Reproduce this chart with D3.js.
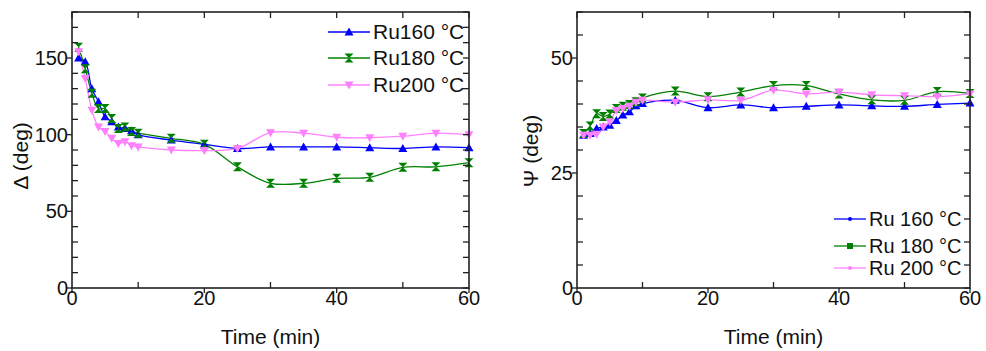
<!DOCTYPE html>
<html>
<head>
<meta charset="utf-8">
<script src="https://cdn.jsdelivr.net/npm/d3@7"></script>
<style>
  body { margin: 0; background: #fff; }
  text { font-family: "Liberation Sans", Arial, Helvetica, sans-serif; fill: #111; }
</style>
</head>
<body>
<svg id="chart" width="986" height="351"></svg>
<script>
// sampling times (min)
var times = [1, 2, 3, 4, 5, 6, 7, 8, 9, 10, 15, 20, 25, 30, 35, 40, 45, 50, 55, 60];

// Delta (deg)
var delta160 = [150, 147.6, 130, 121.5, 111.7, 108.5, 105, 104, 102.6, 100, 96.5, 93.7, 91, 92, 92, 92, 91.5, 91, 92, 91.5];
var delta180 = [157, 143, 127, 117, 117, 110.6, 104, 105, 102, 101, 97.6, 93.7, 79, 68.3, 68.3, 71.5, 72.2, 78.7, 79, 81.7];
var delta200 = [154, 136.7, 116, 105, 102, 97.6, 94.3, 95.4, 92.8, 92, 90, 89.6, 91, 101.3, 101, 98.3, 98, 99, 101, 100];

// Psi (deg)
var psi160 = [33.2, 33.6, 34.7, 35, 35.4, 36.4, 37.6, 38.3, 39.6, 40.1, 40.8, 39.2, 39.8, 39.2, 39.5, 39.8, 39.6, 39.5, 39.9, 40.2];
var psi180 = [33.6, 35.2, 37.9, 37.3, 37.8, 39, 39.5, 39.9, 40.5, 41.3, 42.8, 41.6, 42.6, 44, 44, 42.2, 40.9, 40.8, 42.7, 42.3];
var psi200 = [33.2, 33.2, 33.4, 35, 36.1, 38.6, 39, 39.5, 40.4, 40.8, 40.4, 40.9, 40.8, 43, 42.2, 42.6, 42, 41.8, 41.6, 42.2];

var leftLegend = ["Ru160 \u00b0C", "Ru180 \u00b0C", "Ru200 \u00b0C"];
var rightLegend = ["Ru 160 \u00b0C", "Ru 180 \u00b0C", "Ru 200 \u00b0C"];
var colors = ["#0000ff", "#008000", "#ff80ff"];

var xTicksMajor = [0, 20, 40, 60];
var xTicksMinor = [10, 30, 50];

var svg = d3.select("#chart");

var markerPaths = {
  up: "M0,-4.5L4.5,3.5L-4.5,3.5Z",
  down: "M0,4.5L4.5,-3.5L-4.5,-3.5Z",
  hour: "M-4.5,-4.5H4.5L-4.5,4.5H4.5Z"
};
var shapes = ["up", "hour", "down"];

function drawPanel(opt) {
  var x = d3.scaleLinear().domain([0, 60]).range([opt.x0, opt.x1]);
  var y = d3.scaleLinear().domain([0, opt.ymax]).range([288, 12]);
  var g = svg.append("g");

  var series = opt.series;
  var line = d3.line()
    .x(function(d, i) { return x(times[i]); })
    .y(function(d) { return y(d); })
    .curve(d3.curveCatmullRom.alpha(0.5));

  series.forEach(function(s, k) {
    g.append("path")
      .attr("d", line(s))
      .attr("fill", "none")
      .attr("stroke", colors[k])
      .attr("stroke-width", 1.3);
  });
  series.forEach(function(s, k) {
    g.selectAll(".m" + k).data(s).enter().append("path")
      .attr("class", "m" + k)
      .attr("d", markerPaths[shapes[k]])
      .attr("transform", function(d, i) { return "translate(" + x(times[i]) + "," + y(d) + ")"; })
      .attr("fill", colors[k]);
  });

  // frame
  var axisColor = "#222";
  g.append("rect")
    .attr("x", opt.x0).attr("y", 12)
    .attr("width", opt.x1 - opt.x0).attr("height", 276)
    .attr("fill", "none").attr("stroke", axisColor).attr("stroke-width", 1.6);

  // x ticks
  var xAll = d3.range(0, 61, 10);
  xTicksMajor.forEach(function(t) {
    g.append("line").attr("x1", x(t)).attr("x2", x(t)).attr("y1", 288).attr("y2", 293)
      .attr("stroke", axisColor).attr("stroke-width", 1.3);
    g.append("text").attr("x", x(t)).attr("y", 305).attr("text-anchor", "middle")
      .style("font-size", "20px").text(t);
  });
  xTicksMinor.forEach(function(t) {
    g.append("line").attr("x1", x(t)).attr("x2", x(t)).attr("y1", 288).attr("y2", 282)
      .attr("stroke", axisColor).attr("stroke-width", 1.3);
  });
  xAll.forEach(function(t) {
    g.append("line").attr("x1", x(t)).attr("x2", x(t)).attr("y1", 12).attr("y2", 18)
      .attr("stroke", axisColor).attr("stroke-width", 1.3);
  });

  // y ticks
  d3.range(0, opt.ymax + 0.1, opt.minor).forEach(function(v) {
    var major = opt.major.indexOf(v) >= 0;
    g.append("line").attr("x1", opt.x1).attr("x2", opt.x1 - 6).attr("y1", y(v)).attr("y2", y(v))
      .attr("stroke", axisColor).attr("stroke-width", 1.3);
    if (major) {
      g.append("line").attr("x1", opt.x0).attr("x2", opt.x0 - 5).attr("y1", y(v)).attr("y2", y(v))
        .attr("stroke", axisColor).attr("stroke-width", 1.3);
      g.append("text").attr("x", opt.x0 - 4).attr("y", y(v) + 7).attr("text-anchor", "end")
        .style("font-size", "20px").text(v);
    } else {
      g.append("line").attr("x1", opt.x0).attr("x2", opt.x0 + 6).attr("y1", y(v)).attr("y2", y(v))
        .attr("stroke", axisColor).attr("stroke-width", 1.3);
    }
  });

  // titles
  g.append("text").attr("x", (opt.x0 + opt.x1) / 2).attr("y", 344).attr("text-anchor", "middle")
    .style("font-size", "21px").text("Time (min)");
  g.append("text").attr("transform", "translate(" + opt.ylabX + "," + opt.ylabY + ") rotate(-90)")
    .attr("text-anchor", "middle").style("font-size", "21px").text(opt.ylabel);

  // legend
  opt.legend.forEach(function(name, k) {
    var ly = opt.legY[k];
    g.append("line").attr("x1", opt.legX0).attr("x2", opt.legX1).attr("y1", ly).attr("y2", ly)
      .attr("stroke", colors[k]).attr("stroke-width", 1.3);
    var mx = (opt.legX0 + opt.legX1) / 2;
    if (opt.legMarks) {
      g.append("path").attr("d", markerPaths[shapes[k]])
        .attr("transform", "translate(" + mx + "," + ly + ")").attr("fill", colors[k]);
    } else if (k === 1) {
      g.append("rect").attr("x", mx - 3).attr("y", ly - 3).attr("width", 6).attr("height", 6).attr("fill", colors[k]);
    } else {
      g.append("circle").attr("cx", mx).attr("cy", ly).attr("r", 2).attr("fill", colors[k]);
    }
    g.append("text").attr("x", opt.legX1 + 3).attr("y", ly + 7)
      .style("font-size", opt.legFont).text(name);
  });
}

drawPanel({
  x0: 72, x1: 469, ymax: 180, minor: 10, major: [0, 50, 100, 150],
  series: [delta160, delta180, delta200],
  ylabel: "\u0394 (deg)", ylabX: 28, ylabY: 156,
  legend: leftLegend, legY: [32, 58, 85], legX0: 328, legX1: 370, legMarks: true, legFont: "21px"
});

drawPanel({
  x0: 577, x1: 970, ymax: 60, minor: 5, major: [0, 25, 50],
  series: [psi160, psi180, psi200],
  ylabel: "\u03a8 (deg)", ylabX: 538, ylabY: 151,
  legend: rightLegend, legY: [219, 246, 268], legX0: 834, legX1: 866, legMarks: false, legFont: "20px"
});
</script>
</body>
</html>
